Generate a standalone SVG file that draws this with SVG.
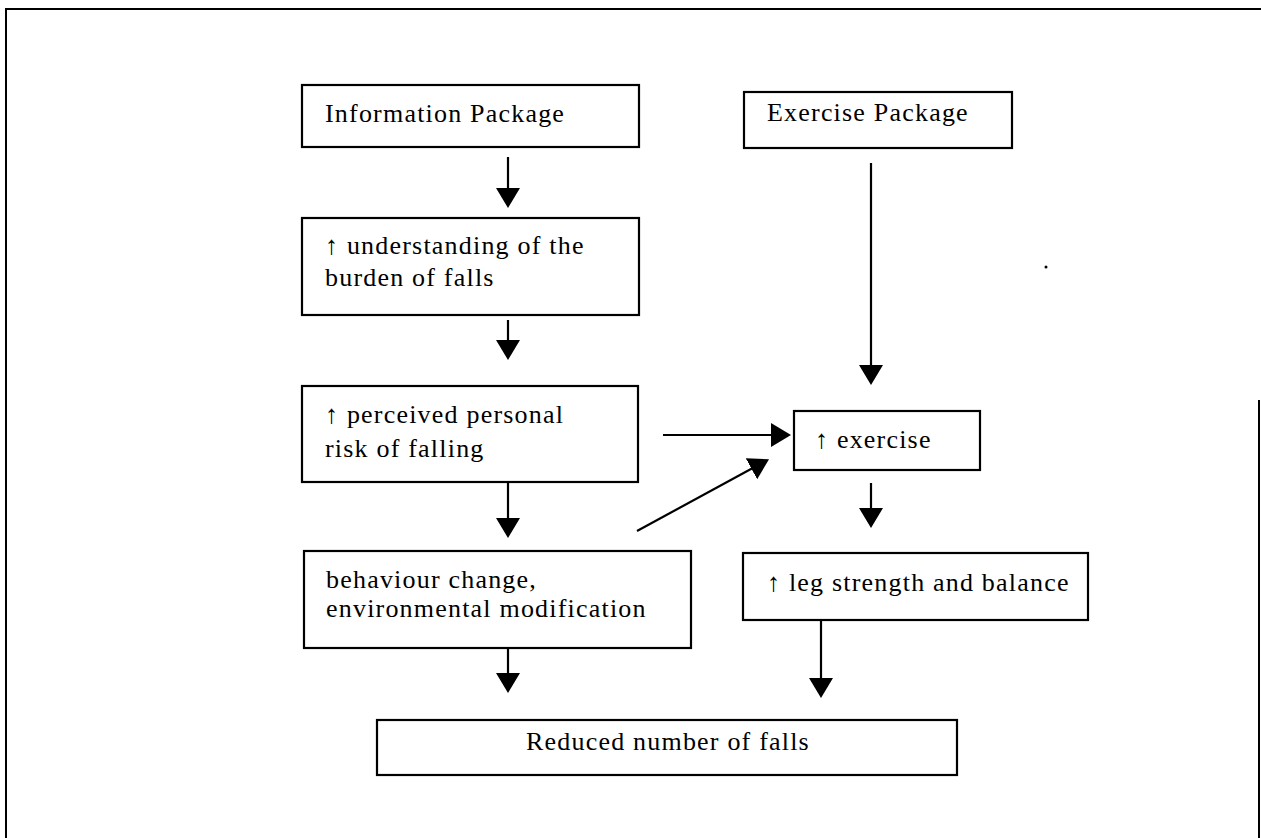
<svg xmlns="http://www.w3.org/2000/svg" width="1261" height="838" viewBox="0 0 1261 838">
  <style>
    .box { fill: #ffffff; stroke: #000000; stroke-width: 2.2; }
    .lbl { font-family: "Liberation Serif", "Times New Roman", serif; font-size: 26px; letter-spacing: 1.2px; fill: #000000; }
    .conn { stroke: #000000; stroke-width: 2.2; fill: none; }
    .frame { stroke: #000000; stroke-width: 2; fill: none; }
  </style>
  <defs>
    <marker id="ah" viewBox="0 0 20 24" markerWidth="20" markerHeight="24" refX="12" refY="12" orient="auto" markerUnits="userSpaceOnUse">
      <path d="M0,0 L20,12 L0,24 Z" fill="#000000"/>
    </marker>
  </defs>
  <rect x="0" y="0" width="1261" height="838" fill="#ffffff"/>
  <g id="frame">
    <path class="frame" d="M6,838 V9 H1261"/>
    <path class="frame" d="M1259,400 V838"/>
    <circle cx="1046" cy="267" r="1.5" fill="#000000"/>
  </g>
  <g id="connectors">
    <line class="conn" x1="508" y1="157" x2="508" y2="200" marker-end="url(#ah)"/>
    <line class="conn" x1="508" y1="320" x2="508" y2="352" marker-end="url(#ah)"/>
    <line class="conn" x1="508" y1="482" x2="508" y2="530" marker-end="url(#ah)"/>
    <line class="conn" x1="508" y1="649" x2="508" y2="685" marker-end="url(#ah)"/>
    <line class="conn" x1="821" y1="621" x2="821" y2="690" marker-end="url(#ah)"/>
    <line class="conn" x1="871" y1="163" x2="871" y2="377" marker-end="url(#ah)"/>
    <line class="conn" x1="871" y1="483" x2="871" y2="520" marker-end="url(#ah)"/>
    <line class="conn" x1="663" y1="435" x2="783" y2="435" marker-end="url(#ah)"/>
    <line class="conn" x1="637" y1="531" x2="762" y2="463" marker-end="url(#ah)"/>
  </g>
  <g id="info">
    <rect class="box" x="302" y="85" width="337" height="62"/>
    <text class="lbl" x="325" y="122">Information Package</text>
  </g>
  <g id="exercise-package">
    <rect class="box" x="744" y="92" width="268" height="56"/>
    <text class="lbl" x="767" y="121">Exercise Package</text>
  </g>
  <g id="understanding">
    <rect class="box" x="302" y="218" width="337" height="97"/>
    <text class="lbl" x="325" y="254">↑ understanding of the</text>
    <text class="lbl" x="325" y="286">burden of falls</text>
  </g>
  <g id="perceived">
    <rect class="box" x="302" y="386" width="336" height="96"/>
    <text class="lbl" x="325" y="423">↑ perceived personal</text>
    <text class="lbl" x="325" y="457">risk of falling</text>
  </g>
  <g id="exercise">
    <rect class="box" x="794" y="411" width="186" height="59"/>
    <text class="lbl" x="815" y="448">↑ exercise</text>
  </g>
  <g id="behaviour">
    <rect class="box" x="304" y="551" width="387" height="97"/>
    <text class="lbl" x="326" y="588">behaviour change,</text>
    <text class="lbl" x="326" y="617">environmental modification</text>
  </g>
  <g id="leg">
    <rect class="box" x="743" y="553" width="345" height="67"/>
    <text class="lbl" x="767" y="591">↑ leg strength and balance</text>
  </g>
  <g id="reduced">
    <rect class="box" x="377" y="720" width="580" height="55"/>
    <text class="lbl" x="526" y="750">Reduced number of falls</text>
  </g>
</svg>
